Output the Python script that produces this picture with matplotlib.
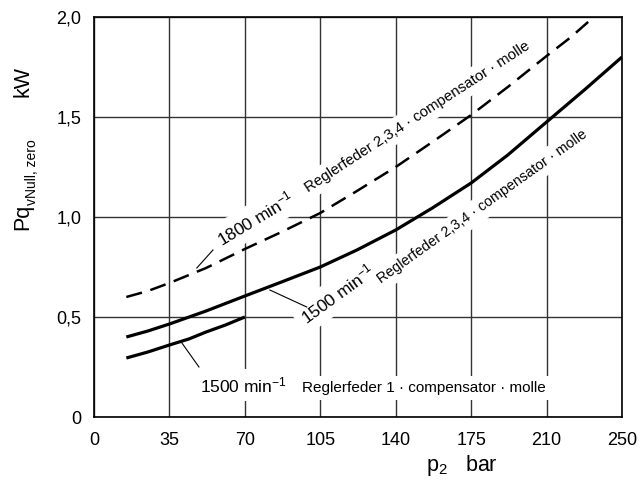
import matplotlib
matplotlib.use("Agg")
import matplotlib.pyplot as plt
import numpy as np

plt.rcParams['font.family'] = ['Liberation Sans', 'DejaVu Sans']
plt.rcParams['mathtext.fontset'] = 'custom'
plt.rcParams['mathtext.rm'] = 'Liberation Sans'
plt.rcParams['mathtext.it'] = 'Liberation Sans'

# p2 in bar, power in kW
p_1800 = [15, 25, 35, 52, 70, 87, 105, 122, 140, 157, 175, 192, 210, 223, 235]
P_1800 = [0.60, 0.63, 0.67, 0.745, 0.84, 0.925, 1.02, 1.13, 1.25, 1.375,
          1.51, 1.65, 1.805, 1.90, 2.0]

p_1500 = [15, 25, 35, 52, 70, 87, 105, 122, 140, 157, 175, 192, 210, 230, 250]
P_1500 = [0.40, 0.43, 0.465, 0.53, 0.605, 0.675, 0.75, 0.835, 0.935, 1.045,
          1.17, 1.31, 1.475, 1.635, 1.80]

p_1500_f1 = [15, 25, 35, 44, 52, 61, 70]
P_1500_f1 = [0.295, 0.325, 0.36, 0.39, 0.425, 0.46, 0.50]

xticks = [0, 35, 70, 105, 140, 175, 210, 250]
yticks = [0, 0.5, 1.0, 1.5, 2.0]
yticklabels = ["0", "0,5", "1,0", "1,5", "2,0"]

# last interval (210-250) is drawn the same width as the others
def fwd(x):
    x = np.asarray(x, dtype=float)
    return np.where(x <= 210, x, 210 + (x - 210) * 35 / 40)

def inv(x):
    x = np.asarray(x, dtype=float)
    return np.where(x <= 210, x, 210 + (x - 210) * 40 / 35)

fig = plt.figure(figsize=(6.42, 4.83), dpi=100)
ax = fig.add_axes([94/642, 1 - 417/483, (622 - 94)/642, (417 - 17)/483])
ax.set_xscale('function', functions=(fwd, inv))
ax.set_xlim(0, 250)
ax.set_ylim(0, 2.0)
ax.set_xticks(xticks)
ax.set_xticklabels([str(t) for t in xticks])
ax.set_yticks(yticks)
ax.set_yticklabels(yticklabels)
ax.tick_params(length=0, labelsize=13, pad=9)
ax.tick_params(axis='x', pad=11)
ax.grid(True, color='#333333', lw=1.0, zorder=0)
ax.set_axisbelow(True)
for s in ax.spines.values():
    s.set_linewidth(1.2)

ax.plot(p_1800, P_1800, color='black', lw=1.8, ls=(0, (6.5, 3.5)), zorder=5,
        clip_on=False)
ax.plot(p_1500, P_1500, color='black', lw=2.3, zorder=5, solid_capstyle='butt')
ax.plot(p_1500_f1, P_1500_f1, color='black', lw=2.3, zorder=5,
        solid_capstyle='butt')

box = dict(boxstyle='square,pad=0.35', fc='white', ec='none')
small = 'Reglerfeder 2,3,4 · compensator · molle'

# 1800 label
ax.text(59.3, 0.85, r'1800 min$\mathregular{^{-1}}$', fontsize=12.5, rotation=31,
        rotation_mode='anchor', ha='left', va='baseline', bbox=box, zorder=3)
ax.text(99.5, 1.125, small, fontsize=10.8, rotation=33,
        rotation_mode='anchor', ha='left', va='baseline', bbox=box, zorder=3)
ax.plot([47.7, 55.2], [0.745, 0.835], color='black', lw=0.8, zorder=5)

# 1500 label, springs 2,3,4
ax.text(98.7, 0.46, r'1500 min$\mathregular{^{-1}}$', fontsize=12.5, rotation=36,
        rotation_mode='anchor', ha='left', va='baseline', bbox=box, zorder=3)
ax.text(133.5, 0.665, small, fontsize=10.3, rotation=35.5,
        rotation_mode='anchor', ha='left', va='baseline', bbox=box, zorder=3)
ax.plot([81.6, 98.7], [0.635, 0.55], color='black', lw=0.8, zorder=5)

# 1500 label, spring 1
ax.text(49.1, 0.125, r'1500 min$\mathregular{^{-1}}$', fontsize=12.5,
        ha='left', va='baseline', bbox=box, zorder=3)
ax.text(96.4, 0.125, 'Reglerfeder 1 · compensator · molle', fontsize=11,
        ha='left', va='baseline', bbox=box, zorder=3)
ax.plot([40.8, 48.7], [0.37, 0.25], color='black', lw=0.8, zorder=5)

# y axis label: Pq_vNull, zero  kW
fig.text(28/642, 1 - 230/483, 'Pq', fontsize=15.5, rotation=90,
         rotation_mode='anchor', ha='left', va='baseline')
fig.text(36/642, 1 - 205/483, 'vNull, zero', fontsize=10, rotation=90,
         rotation_mode='anchor', ha='left', va='baseline')
fig.text(28/642, 1 - 97/483, 'kW', fontsize=15.5, rotation=90,
         rotation_mode='anchor', ha='left', va='baseline')

fig.text(462/642, 1 - 466/483, r'p$_{\mathregular{2}}$   bar', fontsize=15.5,
         ha='center', va='center')

fig.savefig('out.png', dpi=100)
